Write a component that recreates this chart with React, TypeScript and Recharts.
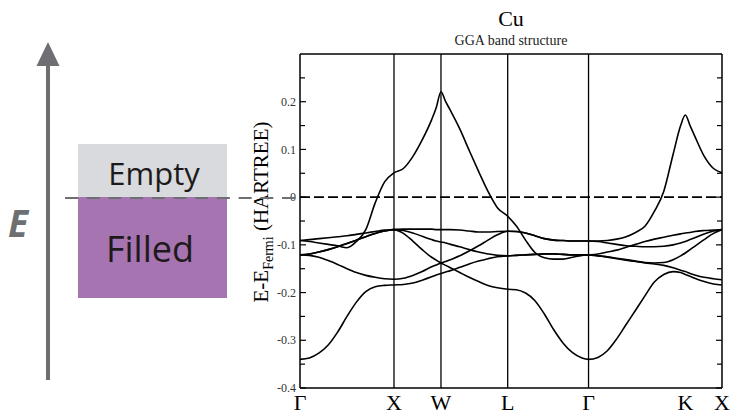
import React from 'react';
import { LineChart, Line, XAxis, YAxis, ReferenceLine } from 'recharts';

// k-path position (in units of 2pi/a) along Γ-X-W-L-Γ-K-X
const kPath = [
  0, 0.1, 0.2, 0.3, 0.4, 0.5, 0.6, 0.7, 0.8, 0.9, 1.0,
  1.1, 1.2, 1.3, 1.4, 1.45, 1.5,
  1.55, 1.6, 1.7, 1.8, 1.9, 2.0, 2.1, 2.21,
  2.3, 2.4, 2.5, 2.6, 2.7, 2.8, 2.9, 3.0, 3.07,
  3.17, 3.27, 3.37, 3.47, 3.57, 3.67, 3.77, 3.87, 3.97, 4.05, 4.1,
  4.15, 4.2, 4.3, 4.4, 4.49,
];

// band energies (hartree, relative to E_Fermi)
const bandA = [
  -0.340, -0.337, -0.327, -0.310, -0.283, -0.250, -0.220, -0.198, -0.188, -0.185, -0.184,
  -0.183, -0.180, -0.174, -0.167, -0.163, -0.160,
  -0.157, -0.154, -0.147, -0.140, -0.134, -0.129, -0.125, -0.123,
  -0.122, -0.121, -0.120, -0.119, -0.119, -0.120, -0.121, -0.121, -0.121,
  -0.123, -0.125, -0.128, -0.131, -0.134, -0.137, -0.138, -0.137, -0.131, -0.123, -0.117,
  -0.110, -0.103, -0.089, -0.076, -0.068,
];
const bandB = [
  -0.121, -0.122, -0.126, -0.133, -0.141, -0.150, -0.158, -0.164, -0.168, -0.171, -0.172,
  -0.170, -0.164, -0.156, -0.146, -0.142, -0.138,
  -0.135, -0.131, -0.123, -0.113, -0.102, -0.090, -0.079, -0.0715,
  -0.072, -0.075, -0.081, -0.087, -0.090, -0.091, -0.092, -0.092, -0.092,
  -0.092, -0.091, -0.088, -0.083, -0.074, -0.061, -0.030, 0.012, 0.090, 0.150, 0.172,
  0.150, 0.128, 0.086, 0.060, 0.051,
];
const bandC = [
  -0.121, -0.119, -0.115, -0.110, -0.104, -0.097, -0.090, -0.083, -0.076, -0.071, -0.068,
  -0.076, -0.092, -0.110, -0.126, -0.132, -0.138,
  -0.143, -0.148, -0.158, -0.168, -0.177, -0.185, -0.190, -0.193,
  -0.194, -0.201, -0.217, -0.245, -0.278, -0.306, -0.326, -0.337, -0.340,
  -0.336, -0.322, -0.297, -0.267, -0.237, -0.207, -0.178, -0.162, -0.156, -0.158, -0.162,
  -0.166, -0.170, -0.177, -0.182, -0.184,
];
const bandD = [
  -0.121, -0.119, -0.115, -0.110, -0.104, -0.097, -0.090, -0.083, -0.076, -0.071, -0.068,
  -0.070, -0.075, -0.082, -0.089, -0.092, -0.094,
  -0.096, -0.099, -0.104, -0.110, -0.115, -0.119, -0.122, -0.123,
  -0.122, -0.121, -0.120, -0.119, -0.119, -0.120, -0.121, -0.121, -0.121,
  -0.123, -0.126, -0.129, -0.132, -0.135, -0.138, -0.140, -0.143, -0.148, -0.153, -0.156,
  -0.160, -0.163, -0.168, -0.171, -0.173,
];
const bandE = [
  -0.091, -0.089, -0.087, -0.085, -0.083, -0.081, -0.078, -0.075, -0.072, -0.069, -0.068,
  -0.067, -0.067, -0.067, -0.067, -0.068, -0.068,
  -0.068, -0.068, -0.069, -0.071, -0.073, -0.073, -0.072, -0.0715,
  -0.072, -0.075, -0.081, -0.087, -0.090, -0.091, -0.092, -0.092, -0.092,
  -0.093, -0.096, -0.099, -0.102, -0.103, -0.104, -0.104, -0.103, -0.100, -0.096, -0.093,
  -0.089, -0.085, -0.077, -0.071, -0.068,
];
const bandF = [
  -0.091, -0.093, -0.096, -0.099, -0.102, -0.106, -0.093, -0.068, -0.012, 0.032, 0.051,
  0.060, 0.085, 0.120, 0.162, 0.188, 0.221,
  0.200, 0.182, 0.143, 0.098, 0.054, 0.012, -0.022, -0.040,
  -0.060, -0.090, -0.116, -0.127, -0.130, -0.130, -0.126, -0.122, -0.121,
  -0.119, -0.115, -0.111, -0.105, -0.099, -0.093, -0.088, -0.084, -0.080, -0.077, -0.075,
  -0.074, -0.072, -0.070, -0.069, -0.068,
];

const symPoints = [0, 1, 1.5, 2.21, 3.07, 4.1, 4.49];
const symLabels = ['Γ', 'X', 'W', 'L', 'Γ', 'K', 'X'];
const symDividers = [1, 1.5, 2.21, 3.07];
const energyTicks = [-0.4, -0.35, -0.3, -0.25, -0.2, -0.15, -0.1, -0.05, 0, 0.05, 0.1, 0.15, 0.2, 0.25];

const bandKeys = ['a', 'b', 'c', 'd', 'e', 'f'];
const data = kPath.map((k, i) => ({
  k,
  a: bandA[i],
  b: bandB[i],
  c: bandC[i],
  d: bandD[i],
  e: bandE[i],
  f: bandF[i],
}));

const SERIF = '"Liberation Serif", "DejaVu Serif", serif';
const isMajor = (v: number) => Math.abs(v * 10 - Math.round(v * 10)) < 1e-6;

const LeftTick = (props: any) => {
  const { x, y, payload } = props;
  const v = payload.value;
  const major = isMajor(v);
  return (
    <g>
      <line x1={x} x2={x + (major ? 6 : 5)} y1={y} y2={y} stroke="#000" strokeWidth={1.2} />
      {major && v <= 0.2 && (
        <text x={x - 4} y={y} dy="0.35em" textAnchor="end" fontFamily={SERIF} fontSize={12} fill="#333">
          {v === 0 ? '0' : v.toFixed(1)}
        </text>
      )}
    </g>
  );
};

const RightTick = (props: any) => {
  const { x, y, payload } = props;
  const major = isMajor(payload.value);
  return <line x1={x} x2={x - (major ? 6 : 5)} y1={y} y2={y} stroke="#000" strokeWidth={1.2} />;
};

const GRAY = '#6e6f72';

const App: React.FC = () => {
  return (
    <div style={{ position: 'absolute', left: 0, top: 0, width: 730, height: 415, background: '#fff', overflow: 'hidden' }}>
      <LineChart width={730} height={415} data={data} margin={{ top: 54, right: 7, bottom: 0, left: 240 }}>
        <XAxis
          type="number"
          dataKey="k"
          domain={[0, 4.49]}
          ticks={symPoints}
          interval={0}
          allowDataOverflow
          tickLine={false}
          tickMargin={0}
          height={27}
          axisLine={{ stroke: '#000', strokeWidth: 1.5 }}
          tick={{ fontFamily: SERIF, fontSize: 22, fill: '#000' }}
          tickFormatter={(v: number) => symLabels[symPoints.indexOf(v)]}
        />
        <YAxis
          type="number"
          domain={[-0.4, 0.3]}
          ticks={energyTicks}
          interval={0}
          allowDataOverflow
          width={60}
          tickLine={false}
          tickSize={0}
          tickMargin={0}
          axisLine={{ stroke: '#000', strokeWidth: 1.5 }}
          tick={<LeftTick />}
        />
        <YAxis
          yAxisId="r"
          orientation="right"
          type="number"
          domain={[-0.4, 0.3]}
          ticks={energyTicks}
          interval={0}
          allowDataOverflow
          width={1}
          tickLine={false}
          tickSize={0}
          tickMargin={0}
          axisLine={{ stroke: '#000', strokeWidth: 1.5 }}
          tick={<RightTick />}
        />
        <ReferenceLine y={0.3} stroke="#000" strokeWidth={1.5} />
        {symDividers.map((x) => (
          <ReferenceLine key={x} x={x} stroke="#000" strokeWidth={1.3} />
        ))}
        <ReferenceLine y={0} stroke="#000" strokeWidth={1.6} strokeDasharray="10 4" />
        {bandKeys.map((key) => (
          <Line
            key={key}
            type="monotone"
            dataKey={key}
            stroke="#000"
            strokeWidth={1.6}
            dot={false}
            activeDot={false}
            isAnimationActive={false}
          />
        ))}
      </LineChart>

      {/* title */}
      <div style={{ position: 'absolute', left: 300, top: 6, width: 422, textAlign: 'center', fontFamily: SERIF, fontSize: 22, lineHeight: '26px', color: '#000' }}>
        Cu
      </div>
      <div style={{ position: 'absolute', left: 300, top: 33, width: 422, textAlign: 'center', fontFamily: SERIF, fontSize: 14, lineHeight: '16px', color: '#222' }}>
        GGA band structure
      </div>

      {/* left illustration + axis label */}
      <svg width={730} height={415} style={{ position: 'absolute', left: 0, top: 0, pointerEvents: 'none' }}>
        <rect x={46} y={64} width={4} height={316} fill={GRAY} />
        <polygon points="48,42 36.5,66 59.5,66" fill={GRAY} />
        <text x={8} y={237} fontFamily='"Open Sans", sans-serif' fontWeight={700} fontStyle="italic" fontSize={37} fill={GRAY}>
          E
        </text>
        <rect x={78} y={144} width={149} height={53} fill="#d8dade" />
        <rect x={78} y={197} width={149} height={101} fill="#a674b0" />
        <text x={154} y={185} textAnchor="middle" fontFamily='"Open Sans", sans-serif' fontSize={31} fill="#1e1a1b">
          Empty
        </text>
        <text x={150} y={262} textAnchor="middle" fontFamily='"Open Sans", sans-serif' fontSize={36} fill="#1e1a1b">
          Filled
        </text>
        <text transform="translate(268,212) rotate(-90)" textAnchor="middle" fontFamily={SERIF} fontSize={21} fill="#000">
          E-E<tspan dy={5} fontSize={14}>Fermi</tspan>
          <tspan dy={-5}> (HARTREE)</tspan>
        </text>
        <line x1={65} x2={298} y1={198} y2={198} stroke={GRAY} strokeWidth={2} strokeDasharray="13 8.7" />
      </svg>
    </div>
  );
};

export default App;
